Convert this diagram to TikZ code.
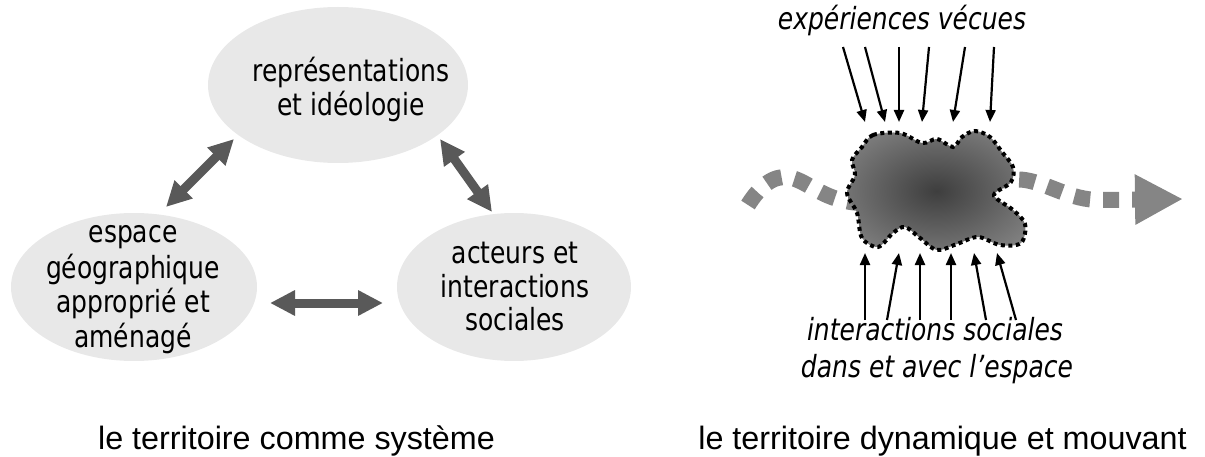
\documentclass[tikz,border=0pt]{standalone}
\usepackage{fontspec}
\setmainfont{DejaVu Sans}[FakeStretch=0.82]
\newfontfamily\capfont{Liberation Sans}
\usetikzlibrary{arrows.meta,shapes.geometric}
\definecolor{ellfill}{HTML}{E8E8E8}
\definecolor{arrgray}{HTML}{595959}
\definecolor{flowgray}{HTML}{858585}
\definecolor{blobin}{HTML}{3E3E3E}
\definecolor{blobout}{HTML}{939393}
\pgfdeclareradialshading{blobsh}{\pgfpoint{0bp}{0bp}}{color(0bp)=(blobin); color(40bp)=(blobout); color(50bp)=(blobout)}
\begin{document}
\begin{tikzpicture}[x=1pt,y=-1pt,
  bubble/.style={ellipse,fill=ellfill,inner sep=0pt},
  btext/.style={anchor=base,inner sep=0pt,font=\fontsize{30.5}{35}\selectfont},
  itext/.style={anchor=base,inner sep=0pt,font=\fontsize{30.5}{35}\selectfont\itshape},
  captext/.style={anchor=base,inner sep=0pt,font=\capfont\fontsize{32.3}{38}\selectfont},
  biarrow/.style={arrgray,line width=9pt,arrows={Triangle[length=25pt,width=24pt]-Triangle[length=25pt,width=24pt]}},
  thinarrow/.style={line width=2.2pt,-{Triangle[length=12pt,width=10pt]}},
  flow/.style={flowgray,line width=16pt,dash pattern=on 16pt off 13pt,-{Triangle[length=48pt,width=47pt]}},
  blob/.style={shading=blobsh,draw=black,line width=4pt,dash pattern=on 4pt off 3.5pt},
]
\useasboundingbox (0,0) rectangle (1205,457);

% ---- left: territory as a system ----
\node[bubble,minimum width=260pt,minimum height=156pt] (rep) at (338,85) {};
\node[bubble,minimum width=246pt,minimum height=148pt] (esp) at (134,287) {};
\node[bubble,minimum width=234pt,minimum height=148pt] (act) at (514,287) {};

\node[btext] (rep1) at (351,82) {représentations};
\node[btext] (rep2) at (351,116) {et idéologie};

\node[btext] (esp1) at (133,243) {espace};
\node[btext] (esp2) at (133,278) {géographique};
\node[btext] (esp3) at (133,312) {approprié et};
\node[btext] (esp4) at (133,347) {aménagé};

\node[btext] (act1) at (515,263) {acteurs et};
\node[btext] (act2) at (515,297) {interactions};
\node[btext] (act3) at (515,330) {sociales};

\coordinate (a1s) at (166,207);
\coordinate (a1e) at (234,139);
\coordinate (a2s) at (440,139);
\coordinate (a2e) at (492,212);
\coordinate (a3s) at (270,303);
\coordinate (a3e) at (383,303);
\draw[biarrow] (a1s) -- (a1e);
\draw[biarrow] (a2s) -- (a2e);
\draw[biarrow] (a3s) -- (a3e);

\node[captext] (cap1) at (296.5,449) {le territoire comme système};

% ---- right: dynamic territory ----
\coordinate (f0) at (748,205);
\coordinate (f1) at (792,178);
\coordinate (f2) at (860,203);
\coordinate (f3) at (1025,180);
\coordinate (f4) at (1100,200);
\coordinate (f5) at (1183,199);
\draw[flow] (f0) .. controls (765,178) and (780,175) .. (f1)
  .. controls (810,183) and (825,201) .. (f2)
  .. controls (920,206) and (990,175) .. (f3)
  .. controls (1050,184) and (1070,200) .. (f4) -- (f5);

\shadedraw[blob] plot[smooth cycle,tension=0.55] coordinates {
 (862,147) (873,135) (900,133) (922,143) (937,139) (953,147) (962,137) (975,131)
 (990,137) (1002,152) (1013,167) (1011,182) (995,193) (997,199) (1013,210)
 (1025,224) (1021,243) (1000,245) (978,237) (957,244) (937,250) (920,238)
 (905,227) (893,233) (878,247) (862,238) (857,213) (847,193) (855,175) (852,160)};

\node[itext] (exp) at (902,30) {expériences vécues};
\node[itext] (int1) at (935,340) {interactions sociales};
\node[itext] (int2) at (937,377) {dans et avec l’espace};

\foreach \xa/\ya/\xb/\yb [count=\i] in {843/47/865/122, 865/47/885/122, 899/47/899/122, 929/47/922/122, 965/47/953/122, 994/47/990/122}{
  \coordinate (u\i s) at (\xa,\ya);
  \coordinate (u\i e) at (\xb,\yb);
  \draw[thinarrow] (u\i s) -- (u\i e);
}
\foreach \xa/\ya/\xb/\yb [count=\i] in {865/320/865/253, 887/320/899/253, 920/320/920/253, 951/320/951/253, 986/320/974/253, 1016/320/997/253}{
  \coordinate (d\i s) at (\xa,\ya);
  \coordinate (d\i e) at (\xb,\yb);
  \draw[thinarrow] (d\i s) -- (d\i e);
}

\node[captext] (cap2) at (942.5,449) {le territoire dynamique et mouvant};
\end{tikzpicture}
\end{document}
